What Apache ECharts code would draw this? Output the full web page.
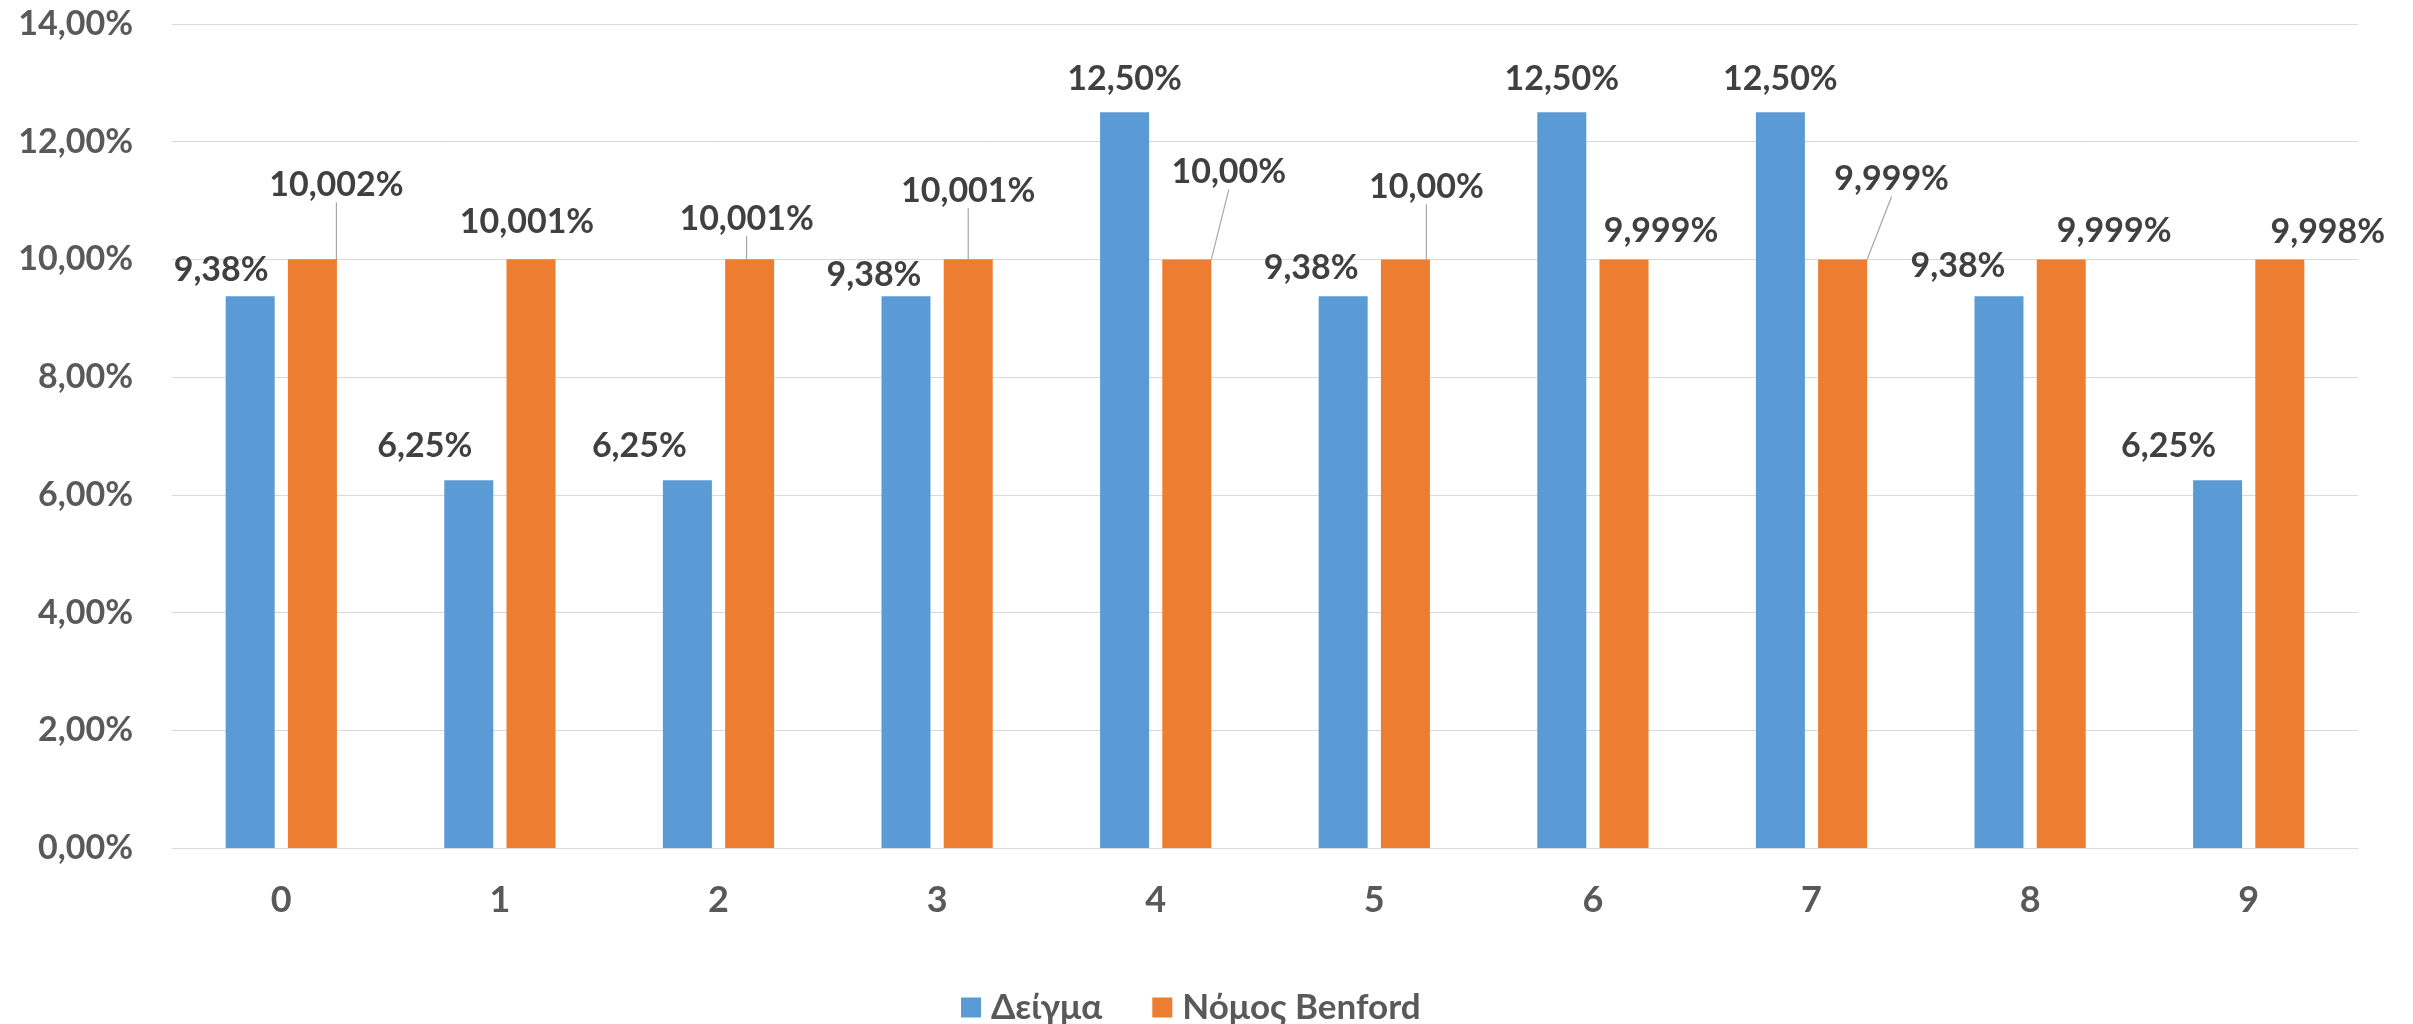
<!DOCTYPE html>
<html>
<head>
<meta charset="utf-8">
<title>Δείγμα / Νόμος Benford</title>
<script src="https://cdn.jsdelivr.net/npm/echarts@6/dist/echarts.min.js"></script>
<style>
  html, body { margin: 0; padding: 0; background: #ffffff; }
  #chart { width: 2413px; height: 1024px; }
</style>
</head>
<body>
<div id="chart"></div>
<script>
// Digit categories on the x axis
const digits = ['0', '1', '2', '3', '4', '5', '6', '7', '8', '9'];

// Observed share of each digit in the sample (%)
const sampleShare = [9.375, 6.25, 6.25, 9.375, 12.5, 9.375, 12.5, 12.5, 9.375, 6.25];

// Expected share of each digit under Benford's law (%)
const benfordShare = [10.002, 10.001, 10.001, 10.001, 10.000, 10.000, 9.999, 9.999, 9.999, 9.998];
const benfordDecimals = [3, 3, 3, 3, 2, 2, 3, 3, 3, 3];

const seriesNames = ['Δείγμα', 'Νόμος Benford'];

// Y axis ticks (%)
const yMin = 0, yMax = 14, yStep = 2;

// Label nudges from the top centre of each bar, in px [dx, dy]
const sampleLabelShift = [[-29, -26], [-44, -34], [-48, -34], [-32, -21], [0, -33],
                          [-32, -28], [0, -33], [0, -33], [-41, -30], [-49, -34]];
const benfordLabelShift = [[24, -74], [-4, -37], [-3, -40], [0, -68], [42, -87],
                           [21, -72], [37, -28], [49, -80], [53, -28], [48, -28]];
const benfordLeader = [true, false, true, true, true, true, false, true, false, false];

const FONT = 'Lato';
const pct = (v, d) => v.toFixed(d).replace('.', ',') + '%';

function placeLabel(shifts) {
  return function (p) {
    const r = p.rect;
    const s = shifts[p.dataIndex];
    return {
      x: r.x + r.width / 2 + s[0],
      y: r.y + s[1],
      align: 'center',
      verticalAlign: 'middle'
    };
  };
}

const labelStyle = {
  show: true,
  position: 'top',
  fontFamily: FONT,
  fontWeight: 'bold',
  fontSize: 34,
  color: '#404040'
};

const chart = echarts.init(document.getElementById('chart'), null, { renderer: 'canvas' });

chart.setOption({
  animation: false,
  backgroundColor: '#ffffff',
  textStyle: { fontFamily: FONT },
  grid: { left: 172, right: 55, top: 24, bottom: 176, containLabel: false },
  legend: {
    data: seriesNames,
    left: 956,
    top: 985,
    icon: 'rect',
    itemWidth: 20,
    itemHeight: 20,
    itemGap: 50,
    textStyle: { fontFamily: FONT, fontWeight: 'bold', fontSize: 35, color: '#595959', padding: [0, 0, 0, 5] }
  },
  xAxis: {
    type: 'category',
    data: digits,
    axisLine: { show: true, lineStyle: { color: '#D9D9D9', width: 1 } },
    axisTick: { show: false },
    axisLabel: { fontFamily: FONT, fontWeight: 'bold', fontSize: 36, color: '#595959', margin: 34 }
  },
  yAxis: {
    type: 'value',
    min: yMin,
    max: yMax,
    interval: yStep,
    axisLine: { show: false },
    axisTick: { show: false },
    splitLine: { lineStyle: { color: '#D9D9D9', width: 1 } },
    axisLabel: {
      fontFamily: FONT, fontWeight: 'bold', fontSize: 34, color: '#595959', margin: 39,
      formatter: v => pct(v, 2)
    }
  },
  series: [
    {
      name: seriesNames[0],
      type: 'bar',
      barWidth: 49,
      barGap: '27%',
      itemStyle: { color: '#5B9BD5' },
      data: sampleShare,
      label: Object.assign({}, labelStyle, { formatter: p => pct(p.value, 2) }),
      labelLayout: placeLabel(sampleLabelShift)
    },
    {
      name: seriesNames[1],
      type: 'bar',
      barWidth: 49,
      itemStyle: { color: '#ED7D31' },
      data: benfordShare.map((v, i) => ({
        value: v,
        labelLine: { show: benfordLeader[i] }
      })),
      label: Object.assign({}, labelStyle, {
        formatter: p => pct(p.value, benfordDecimals[p.dataIndex])
      }),
      labelLine: { show: true, lineStyle: { color: '#A6A6A6', width: 1.2 } },
      labelLayout: placeLabel(benfordLabelShift)
    }
  ]
});
</script>
</body>
</html>
